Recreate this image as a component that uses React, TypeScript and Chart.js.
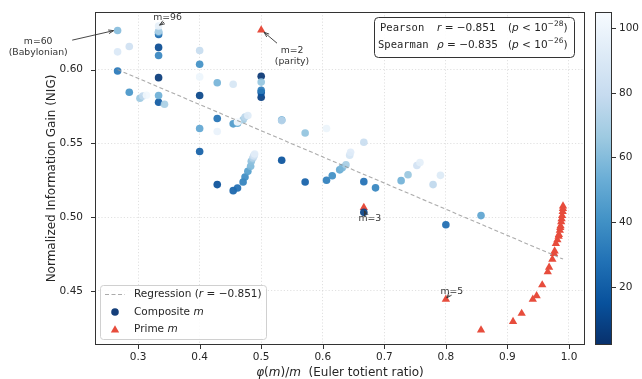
import React, { useEffect, useRef } from "react";
import { Chart, registerables } from "chart.js";
Chart.register(...registerables);

// ---------------- data ----------------
const compositeM = [4, 6, 8, 9, 10, 12, 14, 15, 16, 18, 20, 21, 22, 24, 25, 26, 27, 28, 30, 32, 33, 34, 35, 36, 38, 39, 40, 42, 44, 45, 46, 48, 49, 50, 51, 52, 54, 55, 56, 57, 58, 60, 62, 63, 64, 65, 66, 68, 69, 70, 72, 74, 75, 76, 77, 78, 80, 81, 82, 84, 85, 86, 87, 88, 90, 91, 92, 93, 94, 95, 96, 98, 99, 100, 102, 104];
const compositeRatio = [0.5, 0.3333, 0.5, 0.6667, 0.4, 0.3333, 0.4286, 0.5333, 0.5, 0.3333, 0.4, 0.5714, 0.4545, 0.3333, 0.8, 0.4615, 0.6667, 0.4286, 0.2667, 0.5, 0.6061, 0.4706, 0.6857, 0.3333, 0.4737, 0.6154, 0.4, 0.2857, 0.4545, 0.5333, 0.4783, 0.3333, 0.8571, 0.4, 0.6275, 0.4615, 0.3333, 0.7273, 0.4286, 0.6316, 0.4828, 0.2667, 0.4839, 0.5714, 0.5, 0.7385, 0.303, 0.4706, 0.6377, 0.3429, 0.3333, 0.4865, 0.5333, 0.4737, 0.7792, 0.3077, 0.4, 0.6667, 0.4878, 0.2857, 0.7529, 0.4884, 0.6437, 0.4545, 0.2667, 0.7912, 0.4783, 0.6452, 0.4894, 0.7579, 0.3333, 0.4286, 0.6061, 0.4, 0.3137, 0.4615];
const compositeNig = [0.5955, 0.5945, 0.5812, 0.5032, 0.5824, 0.615, 0.522, 0.5385, 0.5845, 0.5778, 0.5444, 0.5238, 0.5179, 0.6238, 0.4948, 0.5197, 0.524, 0.5668, 0.599, 0.586, 0.525, 0.5238, 0.5198, 0.6095, 0.5272, 0.528, 0.6036, 0.5846, 0.5632, 0.5658, 0.531, 0.6252, 0.501, 0.56, 0.532, 0.5636, 0.5824, 0.5247, 0.591, 0.5335, 0.5344, 0.6265, 0.5378, 0.557, 0.5915, 0.5287, 0.5805, 0.566, 0.5355, 0.5765, 0.626, 0.54, 0.5654, 0.5678, 0.522, 0.5821, 0.6129, 0.5507, 0.5412, 0.6156, 0.535, 0.5418, 0.5419, 0.59, 0.612, 0.5283, 0.5689, 0.5439, 0.5428, 0.537, 0.6295, 0.558, 0.56, 0.595, 0.5826, 0.5645];

const primeM = [2, 3, 5, 7, 11, 13, 17, 19, 23, 29, 31, 37, 41, 43, 47, 53, 59, 61, 67, 71, 73, 79, 83, 89, 97, 101, 103];
const primeRatio = [0.5, 0.6667, 0.8, 0.8571, 0.9091, 0.9231, 0.9412, 0.9474, 0.9565, 0.9655, 0.9677, 0.973, 0.9756, 0.9767, 0.9787, 0.9811, 0.9831, 0.9836, 0.9851, 0.9859, 0.9863, 0.9873, 0.988, 0.9888, 0.9897, 0.9901, 0.9903];
const primeNig = [0.6268, 0.5065, 0.4442, 0.4234, 0.4292, 0.4347, 0.4442, 0.4466, 0.454, 0.4628, 0.466, 0.4714, 0.4752, 0.477, 0.482, 0.4845, 0.487, 0.4882, 0.491, 0.4928, 0.494, 0.4968, 0.4988, 0.501, 0.5038, 0.5058, 0.5075];

const xTicks = [0.3, 0.4, 0.5, 0.6, 0.7, 0.8, 0.9, 1.0];
const yTicks = [0.45, 0.5, 0.55, 0.6];
const cbTicks = [20, 40, 60, 80, 100];

const regSlope = -0.1775;
const regIntercept = 0.6473;
const regXRange = [0.2667, 0.9903];

const pearsonR = -0.851;
const spearmanRho = -0.835;
const pearsonExp = -28;
const spearmanExp = -26;

const mMin = 2;
const mMax = 105;
const xMin = 0.23, xMax = 1.026, yMin = 0.4133, yMax = 0.639;

// annotations: label lines, the point they mark, offsets in px
const annotations = [
  { lines: ["m=60", "(Babylonian)"], px: 0.2667, py: 0.6265, t: [-79.4, 16.7], s: [-45.4, 9.7], e: [-4, 0.2] },
  { lines: ["m=96"], px: 0.3333, py: 0.6295, t: [9, -8], s: [5.5, -3.9], e: [1, -0.9] },
  { lines: ["m=2", "(parity)"], px: 0.5, py: 0.6268, t: [30.8, 26.2], s: [15.8, 13.2], e: [2.8, 2.2] },
  { lines: ["m=3"], px: 0.6667, py: 0.5065, t: [6, 11.3], s: [2.2, 7.3], e: [0.6, 3.3] },
  { lines: ["m=5"], px: 0.8, py: 0.4442, t: [6, -7.5], s: [3.5, -4.5], e: [1, -1.5] },
];

// ---------------- colours ----------------
const BLUES = ["#f7fbff", "#deebf7", "#c6dbef", "#9ecae1", "#6baed6", "#4292c6", "#2171b5", "#08519c", "#08306b"];
function hexRgb(h: string) {
  return [parseInt(h.slice(1, 3), 16), parseInt(h.slice(3, 5), 16), parseInt(h.slice(5, 7), 16)];
}
function bluesR(m: number, alpha = 1) {
  let t = (m - mMin) / (mMax - mMin);
  t = Math.max(0, Math.min(1, t));
  const v = (1 - t) * 8;
  const i = Math.min(7, Math.floor(v));
  const f = v - i;
  const a = hexRgb(BLUES[i]);
  const b = hexRgb(BLUES[i + 1]);
  const c = a.map((q, k) => Math.round(q + (b[k] - q) * f));
  return `rgba(${c[0]},${c[1]},${c[2]},${alpha})`;
}
const RED = "#e74c3c";
const TXT = "#262626";
const SANS = "'DejaVu Sans'";

type Run = { t: string; f: string; dy?: number };
function runsWidth(ctx: CanvasRenderingContext2D, runs: Run[]) {
  let w = 0;
  for (const r of runs) { ctx.font = r.f; w += ctx.measureText(r.t).width; }
  return w;
}
function drawRuns(ctx: CanvasRenderingContext2D, x: number, y: number, runs: Run[]) {
  for (const r of runs) {
    ctx.font = r.f;
    ctx.fillText(r.t, x, y + (r.dy || 0));
    x += ctx.measureText(r.t).width;
  }
  return x;
}
function arrow(ctx: CanvasRenderingContext2D, x1: number, y1: number, x2: number, y2: number) {
  const ang = Math.atan2(y2 - y1, x2 - x1);
  ctx.beginPath();
  ctx.moveTo(x1, y1);
  ctx.lineTo(x2, y2);
  const L = 5.5;
  ctx.moveTo(x2 - L * Math.cos(ang - 0.35), y2 - L * Math.sin(ang - 0.35));
  ctx.lineTo(x2, y2);
  ctx.lineTo(x2 - L * Math.cos(ang + 0.35), y2 - L * Math.sin(ang + 0.35));
  ctx.stroke();
}
function tri(ctx: CanvasRenderingContext2D, x: number, y: number, r: number) {
  ctx.beginPath();
  ctx.moveTo(x, y - r);
  ctx.lineTo(x + 0.866 * r, y + 0.5 * r);
  ctx.lineTo(x - 0.866 * r, y + 0.5 * r);
  ctx.closePath();
  ctx.fill();
}
function roundRect(ctx: CanvasRenderingContext2D, x: number, y: number, w: number, h: number, r: number) {
  ctx.beginPath();
  ctx.moveTo(x + r, y);
  ctx.lineTo(x + w - r, y);
  ctx.arcTo(x + w, y, x + w, y + r, r);
  ctx.lineTo(x + w, y + h - r);
  ctx.arcTo(x + w, y + h, x + w - r, y + h, r);
  ctx.lineTo(x + r, y + h);
  ctx.arcTo(x, y + h, x, y + h - r, r);
  ctx.lineTo(x, y + r);
  ctx.arcTo(x, y, x + r, y, r);
  ctx.closePath();
}
const minus = (v: number, d: number) => (v < 0 ? "\u2212" : "") + Math.abs(v).toFixed(d);
const expStr = (e: number) => (e < 0 ? "\u2212" : "") + Math.abs(e);

const extrasPlugin = {
  id: "extras",
  afterDatasetsDraw(chart: any) {
    const ctx: CanvasRenderingContext2D = chart.ctx;
    const ca = chart.chartArea;
    const xs = chart.scales.x, ys = chart.scales.y;
    ctx.save();
    // annotations
    ctx.fillStyle = "#333";
    ctx.strokeStyle = "#333";
    ctx.lineWidth = 0.9;
    ctx.textAlign = "center";
    ctx.textBaseline = "middle";
    ctx.font = `9.3px ${SANS}`;
    for (const a of annotations) {
      const px = xs.getPixelForValue(a.px), py = ys.getPixelForValue(a.py);
      const n = a.lines.length;
      a.lines.forEach((ln, i) => {
        ctx.fillText(ln, px + a.t[0], py + a.t[1] + (i - (n - 1) / 2) * 10.5);
      });
      arrow(ctx, px + a.s[0], py + a.s[1], px + a.e[0], py + a.e[1]);
    }

    // stats box
    const bx = ca.right - 211, by = ca.top + 5, bw = 200, bh = 40;
    roundRect(ctx, bx + 0.5, by + 0.5, bw, bh, 4);
    ctx.fillStyle = "rgba(255,255,255,0.9)";
    ctx.fill();
    ctx.strokeStyle = "#333";
    ctx.lineWidth = 1;
    ctx.stroke();
    ctx.fillStyle = TXT;
    ctx.textAlign = "left";
    ctx.textBaseline = "middle";
    const MONO = "10.5px 'DejaVu Sans Mono'";
    const M = `10.5px ${SANS}`;
    const MI = `italic 10.5px ${SANS}`;
    const SUP = `7.5px ${SANS}`;
    const y1 = by + 11.5, y2 = by + 28.5;
    drawRuns(ctx, bx + 6, y1, [{ t: "Pearson", f: MONO }]);
    drawRuns(ctx, bx + 63, y1, [{ t: "r", f: MI }, { t: " = " + minus(pearsonR, 3), f: M }]);
    drawRuns(ctx, bx + 134, y1, [{ t: "(", f: M }, { t: "p", f: MI }, { t: " < 10", f: M }, { t: expStr(pearsonExp), f: SUP, dy: -4 }, { t: ")", f: M }]);
    drawRuns(ctx, bx + 4, y2, [{ t: "Spearman", f: MONO }]);
    drawRuns(ctx, bx + 63, y2, [{ t: "\u03c1", f: MI }, { t: " = " + minus(spearmanRho, 3), f: M }]);
    drawRuns(ctx, bx + 134, y2, [{ t: "(", f: M }, { t: "p", f: MI }, { t: " < 10", f: M }, { t: expStr(spearmanExp), f: SUP, dy: -4 }, { t: ")", f: M }]);

    // legend
    const lx = ca.left + 5, ly = ca.bottom - 60, lw = 166, lh = 54;
    roundRect(ctx, lx + 0.5, ly + 0.5, lw, lh, 3);
    ctx.fillStyle = "rgba(255,255,255,0.85)";
    ctx.fill();
    ctx.strokeStyle = "#d0d0d0";
    ctx.stroke();
    const L = `10.5px ${SANS}`, LI = `italic 10.5px ${SANS}`;
    const r1 = ly + 9.5, r2 = ly + 27, r3 = ly + 44;
    ctx.strokeStyle = "rgba(150,150,150,0.8)";
    ctx.lineWidth = 1.2;
    ctx.setLineDash([4, 2.5]);
    ctx.beginPath();
    ctx.moveTo(lx + 5, r1);
    ctx.lineTo(lx + 25, r1);
    ctx.stroke();
    ctx.setLineDash([]);
    ctx.fillStyle = bluesR(4, 0.95);
    ctx.beginPath();
    ctx.arc(lx + 15, r2, 3.8, 0, Math.PI * 2);
    ctx.fill();
    ctx.fillStyle = RED;
    tri(ctx, lx + 15, r3 + 1, 4.8);
    ctx.fillStyle = TXT;
    drawRuns(ctx, lx + 34, r1, [{ t: "Regression (", f: L }, { t: "r", f: LI }, { t: " = " + minus(pearsonR, 3) + ")", f: L }]);
    drawRuns(ctx, lx + 34, r2, [{ t: "Composite ", f: L }, { t: "m", f: LI }]);
    drawRuns(ctx, lx + 34, r3, [{ t: "Prime ", f: L }, { t: "m", f: LI }]);
    ctx.restore();
  },
  afterDraw(chart: any) {
    const ctx: CanvasRenderingContext2D = chart.ctx;
    const ca = chart.chartArea;
    const xs = chart.scales.x, ys = chart.scales.y;
    ctx.save();
    // frame
    ctx.strokeStyle = "#333";
    ctx.lineWidth = 1;
    const L0 = Math.round(ca.left), T0 = Math.round(ca.top), R0 = Math.round(ca.right), B0 = Math.round(ca.bottom);
    ctx.strokeRect(L0 + 0.5, T0 + 0.5, R0 - L0 - 1, B0 - T0 - 1);
    // tick marks (outward)
    ctx.beginPath();
    for (const t of xs.ticks) {
      const x = Math.round(xs.getPixelForValue(t.value)) + 0.5;
      ctx.moveTo(x, B0);
      ctx.lineTo(x, B0 + 4);
    }
    for (const t of ys.ticks) {
      const y = Math.round(ys.getPixelForValue(t.value)) + 0.5;
      ctx.moveTo(L0, y);
      ctx.lineTo(L0 - 4, y);
    }
    ctx.stroke();

    // colorbar
    const cb = chart.scales.cb;
    const cx = R0 + 10, cw = 17;
    const top = T0, bot = B0;
    const g = ctx.createLinearGradient(0, bot, 0, top);
    for (let k = 0; k <= 8; k++) g.addColorStop(k / 8, BLUES[8 - k]);
    ctx.fillStyle = g;
    ctx.fillRect(cx, top, cw, bot - top);
    ctx.strokeRect(cx + 0.5, top + 0.5, cw - 1, bot - top - 1);
    ctx.beginPath();
    for (const t of cb.ticks) {
      const y = Math.round(cb.getPixelForValue(t.value)) + 0.5;
      ctx.moveTo(cx + cw, y);
      ctx.lineTo(cx + cw + 4, y);
    }
    ctx.stroke();

    // axis titles
    ctx.fillStyle = TXT;
    ctx.textBaseline = "middle";
    ctx.textAlign = "left";
    const F = `12px ${SANS}`, FI = `italic 12px ${SANS}`;
    const xr: Run[] = [
      { t: "\u03c6", f: FI }, { t: "(", f: F }, { t: "m", f: FI }, { t: ")/", f: F }, { t: "m", f: FI },
      { t: "  (Euler totient ratio)", f: F },
    ];
    const w = runsWidth(ctx, xr);
    drawRuns(ctx, (ca.left + ca.right) / 2 - w / 2, 372.5, xr);
    ctx.save();
    ctx.translate(52, (ca.top + ca.bottom) / 2);
    ctx.rotate(-Math.PI / 2);
    ctx.textAlign = "center";
    ctx.font = F;
    ctx.fillText("Normalized Information Gain (NIG)", 0, 0);
    ctx.restore();
    ctx.restore();
  },
};

export default function App() {
  const ref = useRef<HTMLCanvasElement | null>(null);
  useEffect(() => {
    if (!ref.current) return;
    Chart.defaults.font.family = SANS;
    const compositePts = compositeM.map((m, i) => ({ x: compositeRatio[i], y: compositeNig[i] }));
    const primePts = primeM.map((m, i) => ({ x: primeRatio[i], y: primeNig[i] }));
    const compColors = compositeM.map((m) => bluesR(m, 0.92));
    const regPts = regXRange.map((x) => ({ x, y: regIntercept + regSlope * x }));
    const tickFont = { family: SANS, size: 10.5 };
    const gridX = {
      color: "rgba(185,185,185,0.55)",
      lineWidth: 0.8,
      drawTicks: true,
      tickLength: 4,
      tickColor: "rgba(0,0,0,0)",
    };
    const gridY = { ...gridX, tickLength: 8 };
    const chart = new Chart(ref.current, {
      type: "scatter",
      data: {
        datasets: [
          {
            label: "Regression",
            data: regPts,
            showLine: true,
            borderColor: "rgba(150,150,150,0.8)",
            borderWidth: 1.1,
            borderDash: [4, 2.5],
            pointRadius: 0,
            pointHoverRadius: 0,
            fill: false,
          } as any,
          {
            label: "Composite m",
            data: compositePts,
            pointRadius: 3.8,
            pointHoverRadius: 3.8,
            pointBackgroundColor: compColors,
            pointBorderColor: compColors,
            pointBorderWidth: 0,
          },
          {
            label: "Prime m",
            data: primePts,
            pointStyle: "triangle",
            pointRadius: 4.8,
            pointHoverRadius: 4.8,
            pointBackgroundColor: RED,
            pointBorderColor: RED,
            pointBorderWidth: 0,
          },
        ],
      },
      options: {
        responsive: false,
        animation: false,
        devicePixelRatio: 1,
        layout: { padding: { top: 12, left: 0, right: 0, bottom: 0 } },
        plugins: { legend: { display: false }, tooltip: { enabled: false } },
        scales: {
          x: {
            type: "linear",
            position: "bottom",
            min: xMin,
            max: xMax,
            afterBuildTicks: (ax: any) => { ax.ticks = xTicks.map((v) => ({ value: v })); },
            afterFit: (ax: any) => { ax.height = 34; },
            ticks: { font: tickFont, color: TXT, padding: 2, maxRotation: 0, autoSkip: false, callback: (v: any) => Number(v).toFixed(1) },
            grid: gridX,
            border: { display: false, dash: [1.2, 2] },
          },
          y: {
            type: "linear",
            position: "left",
            min: yMin,
            max: yMax,
            afterBuildTicks: (ax: any) => { ax.ticks = yTicks.map((v) => ({ value: v })); },
            afterFit: (ax: any) => { ax.width = 95; },
            ticks: { font: tickFont, color: TXT, padding: 4, autoSkip: false, callback: (v: any) => Number(v).toFixed(2) },
            grid: gridY,
            border: { display: false, dash: [1.2, 2] },
          },
          cb: {
            type: "linear",
            axis: "y",
            position: "right",
            min: mMin,
            max: mMax,
            afterBuildTicks: (ax: any) => { ax.ticks = cbTicks.map((v) => ({ value: v })); },
            afterFit: (ax: any) => { ax.width = 57; },
            ticks: { font: tickFont, color: TXT, padding: 3, autoSkip: false, callback: (v: any) => String(v) },
            grid: { display: true, drawOnChartArea: false, drawTicks: true, tickLength: 31, tickColor: "rgba(0,0,0,0)", color: "rgba(0,0,0,0)" },
            border: { display: false },
          },
        },
      } as any,
      plugins: [extrasPlugin],
    });
    return () => chart.destroy();
  }, []);
  return (
    <div style={{ position: "fixed", left: 0, top: 0, width: 642, height: 379, background: "#fff" }}>
      <canvas ref={ref} width={642} height={379} style={{ width: 642, height: 379, display: "block" }} />
    </div>
  );
}
